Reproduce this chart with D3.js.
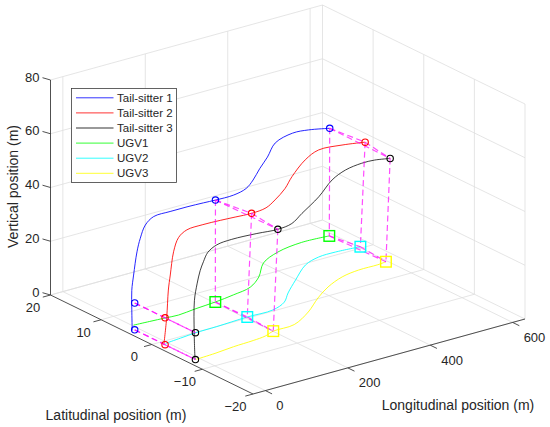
<!DOCTYPE html>
<html>
<head>
<meta charset="utf-8">
<script src="https://cdn.jsdelivr.net/npm/d3@7"></script>
<style>
  body { margin: 0; background: #fff; }
  svg { display: block; }
  text { font-family: "Liberation Sans", Arial, Helvetica, sans-serif; fill: #262626; }
</style>
</head>
<body>
<div id="chart"></div>
<script>
// axis ticks
const xTicks = [0, 200, 400, 600];
const yTicks = [-20, -10, 0, 10, 20];
const zTicks = [0, 20, 40, 60, 80];
const yTickLabels = ["\u221220", "\u221210", "0", "10", "20"];

const seriesNames = ["Tail-sitter 1", "Tail-sitter 2", "Tail-sitter 3", "UGV1", "UGV2", "UGV3"];

// tail-sitter trajectories [longitudinal, latitudinal, vertical]
const tailSitter1 = [[-16,5,0],[-17,5,8],[-17,5,15],[-12.6,5,20.5],[-4.4,5,28.8],[3.6,5,33.5],[15.8,5,37.9],
  [36,5,40.2],[76,5,40.4],[117,5,40.4],[157,5,40.2],[186,5,40],[230,5,40],[270,5.8,40],[308,7.5,40],
  [355,10,40],[403,12.4,40],[460,15.5,40],[518,16.8,40],[553,16.5,40],[591,15.4,40]];
const tailSitter2 = [[-13,-1,0],[-6,-1,10],[-2,-1,20],[2.7,-1,25.4],[10.7,-1,33.7],[22.8,-1,38.5],
  [43,-1,40.5],[80,-1,40.8],[124,-1,40.6],[160,-1,40.3],[200,-1,40],[240,-0.6,40],[279,0.8,40],
  [330,3,40],[379,5.6,40],[453,9,40],[505,10.6,40],[557,10.2,40],[602,9.3,40]];
const tailSitter3 = [[-11,-7,0],[-13,-7,10],[-12.5,-7,22],[-6,-7,28],[1.5,-7,32.6],[9.5,-7,35.6],
  [20,-7,38.6],[42,-7,40.5],[78,-7,41],[139,-7,40.6],[190,-7,40],[230,-6.5,40],[278,-4.6,40],
  [357,-1.5,40],[431,1.9,40],[483,3.5,40],[530,4.1,40],[560,4,40],[589,3.3,40]];

// UGV trajectories (ground)
const ugv1 = [[3,6.3,0],[40,6.1,0],[75,5.9,0],[105,5.7,0],[150,6.1,0],[203.5,6.45,0],[254,7,0],
  [305,7.8,0],[350,9.8,0],[402,13.1,0],[459,14.9,0],[526,15.7,0],[590,15.4,0]];
const ugv2 = [[-5,-0.7,0],[35,-0.4,0],[76,-0.1,0],[128,0,0],[205.5,0.3,0],[268,0.3,0],[310,1.5,0],
  [345,3.6,0],[397.5,6.4,0],[461,9.6,0],[506,10.7,0],[548.5,10.8,0],[604,10.4,0]];
const ugv3 = [[-8,-7,0],[40,-6.8,0],[90,-6.4,0],[140,-6.2,0],[173,-5.9,0],[201,-5.2,0],[254.5,-5,0],
  [316,-2.75,0],[376,0.2,0],[426,2.3,0],[480,3.9,0],[527,4.5,0],[574,4.5,0],[596,4.7,0]];

// marked positions
const tsStart = [[-10,5,0],[-10,-1,0],[-10,-7,0]];
const tsHover = [[-10,5,10],[-10,-1,10],[-10,-7,10]];
const tsMid   = [[186,5,40],[200,-1,40],[190,-7,40]];
const tsEnd   = [[591,15.4,40],[602,9.3,40],[589,3.3,40]];
const ugvMid  = [[203.5,6.45,0],[205.5,0.3,0],[201,-5.2,0]];
const ugvEnd  = [[590,15.4,0],[604,10.4,0],[596,4.7,0]];

const tsColors = ["#0000ff", "#ff0000", "#000000"];
const ugvColors = ["#00ff00", "#00ffff", "#ffff00"];

const width = 550, height = 427;
const svg = d3.select("#chart").append("svg")
  .attr("width", width)
  .attr("height", height);

// orthographic view: front-bottom corner plus the screen vectors of the three box edges
const corner = [253, 394];
const xVec = [272, -75], yVec = [-202.5, -99];
const xS = d3.scaleLinear().domain([-30, 630]).range([0, 1]);
const yS = d3.scaleLinear().domain([-20, 20]).range([0, 1]);
const zS = d3.scaleLinear().domain([0, 80]).range([0, 215]);

function proj(p) {
  const a = xS(p[0]), b = yS(p[1]);
  return [corner[0] + a * xVec[0] + b * yVec[0], corner[1] + a * xVec[1] + b * yVec[1] - zS(p[2])];
}

function seg(g, p, q) {
  const a = proj(p), b = proj(q);
  return g.append("line").attr("x1", a[0]).attr("y1", a[1]).attr("x2", b[0]).attr("y2", b[1]);
}

const [x0, x1] = xS.domain(), [y0, y1] = yS.domain(), [z0, z1] = zS.domain();

// grid on floor and the two back walls
const grid = svg.append("g").attr("stroke", "#dedede").attr("stroke-width", 0.8);
xTicks.forEach(x => { seg(grid, [x, y0, z0], [x, y1, z0]); seg(grid, [x, y1, z0], [x, y1, z1]); });
yTicks.forEach(y => { seg(grid, [x0, y, z0], [x1, y, z0]); seg(grid, [x1, y, z0], [x1, y, z1]); });
zTicks.forEach(z => { seg(grid, [x0, y1, z], [x1, y1, z]); seg(grid, [x1, y1, z], [x1, y0, z]); });

// axis lines and ticks
const axis = svg.append("g").attr("stroke", "#3c3c3c").attr("stroke-width", 0.9);
seg(axis, [x0, y1, z0], [x0, y0, z0]);
seg(axis, [x0, y0, z0], [x1, y0, z0]);
seg(axis, [x0, y1, z0], [x0, y1, z1]);

xTicks.forEach(x => {
  const p = proj([x, y0, z0]);
  axis.append("line").attr("x1", p[0]).attr("y1", p[1]).attr("x2", p[0] + 6.7).attr("y2", p[1] + 3.3);
  svg.append("text").attr("x", p[0] + 11).attr("y", p[1] + 15)
    .attr("dy", "0.35em").attr("font-size", 13).text(x);
});
yTicks.forEach((y, i) => {
  const p = proj([x0, y, z0]);
  axis.append("line").attr("x1", p[0]).attr("y1", p[1]).attr("x2", p[0] - 7.7).attr("y2", p[1] + 2.1);
  svg.append("text").attr("x", p[0] - 17.5).attr("y", p[1] + 12.3)
    .attr("dy", "0.35em").attr("text-anchor", "middle").attr("font-size", 13).text(yTickLabels[i]);
});
zTicks.forEach(z => {
  const p = proj([x0, y1, z]);
  axis.append("line").attr("x1", p[0]).attr("y1", p[1]).attr("x2", p[0] - 8).attr("y2", p[1] - 2.3);
  svg.append("text").attr("x", 39.5).attr("y", p[1] - 3)
    .attr("dy", "0.35em").attr("text-anchor", "end").attr("font-size", 13).text(z);
});

// axis titles
svg.append("text").attr("x", 458).attr("y", 405).attr("dy", "0.35em")
  .attr("text-anchor", "middle").attr("font-size", 14).text("Longitudinal position (m)");
svg.append("text").attr("x", 116).attr("y", 415).attr("dy", "0.35em")
  .attr("text-anchor", "middle").attr("font-size", 14).text("Latitudinal position (m)");
svg.append("text").attr("transform", "translate(13,186.5) rotate(-90)").attr("dy", "0.35em")
  .attr("text-anchor", "middle").attr("font-size", 14).text("Vertical position (m)");

// trajectories
const line = d3.line().curve(d3.curveCatmullRom.alpha(0.5));
const paths = [ugv1, ugv2, ugv3, tailSitter1, tailSitter2, tailSitter3];
const pathColors = ugvColors.concat(tsColors);
svg.append("g").attr("fill", "none")
  .selectAll("path")
  .data(paths)
  .join("path")
  .attr("d", d => line(d.map(proj)))
  .attr("stroke", (d, i) => pathColors[i])
  .attr("stroke-opacity", (d, i) => i == 5 ? 0.75 : 0.85)
  .attr("stroke-width", 1);

// formation links
const dash = svg.append("g").attr("stroke", "#ff00ff").attr("stroke-opacity", 0.7)
  .attr("stroke-width", 1.2).attr("stroke-dasharray", "6,3.5");
function triangle(pts) {
  seg(dash, pts[0], pts[1]); seg(dash, pts[1], pts[2]); seg(dash, pts[0], pts[2]);
}
[tsStart, tsHover, tsMid, ugvMid, tsEnd, ugvEnd].forEach(triangle);
[0, 1, 2].forEach(i => { seg(dash, tsMid[i], ugvMid[i]); seg(dash, tsEnd[i], ugvEnd[i]); });

// markers
const circles = tsStart.concat(tsHover, tsMid, tsEnd);
svg.append("g").attr("fill", "none").attr("stroke-width", 1.1)
  .selectAll("circle")
  .data(circles)
  .join("circle")
  .attr("cx", d => proj(d)[0])
  .attr("cy", d => proj(d)[1])
  .attr("r", 3.2)
  .attr("stroke", (d, i) => tsColors[i % 3]);

const squares = ugvMid.concat(ugvEnd);
svg.append("g").attr("fill", "none").attr("stroke-width", 1.4)
  .selectAll("rect")
  .data(squares)
  .join("rect")
  .attr("x", d => proj(d)[0] - 5.3)
  .attr("y", d => proj(d)[1] - 5.3)
  .attr("width", 10.6)
  .attr("height", 10.6)
  .attr("stroke", (d, i) => ugvColors[i % 3]);

// legend
const legendColors = tsColors.concat(ugvColors);
const legend = svg.append("g").attr("transform", "translate(71.5,88.5)");
legend.append("rect").attr("width", 105).attr("height", 94)
  .attr("fill", "#fff").attr("stroke", "#3c3c3c").attr("stroke-width", 0.8);
const item = legend.selectAll("g.item")
  .data(seriesNames)
  .join("g")
  .attr("class", "item")
  .attr("transform", (d, i) => `translate(0,${9.3 + i * 15.1})`);
item.append("line").attr("x1", 4.5).attr("x2", 42).attr("stroke-width", 1)
  .attr("stroke", (d, i) => legendColors[i]).attr("stroke-opacity", 0.8);
item.append("text").attr("x", 45.5).attr("dy", "0.35em").attr("font-size", 11.5).text(d => d);
</script>
</body>
</html>
